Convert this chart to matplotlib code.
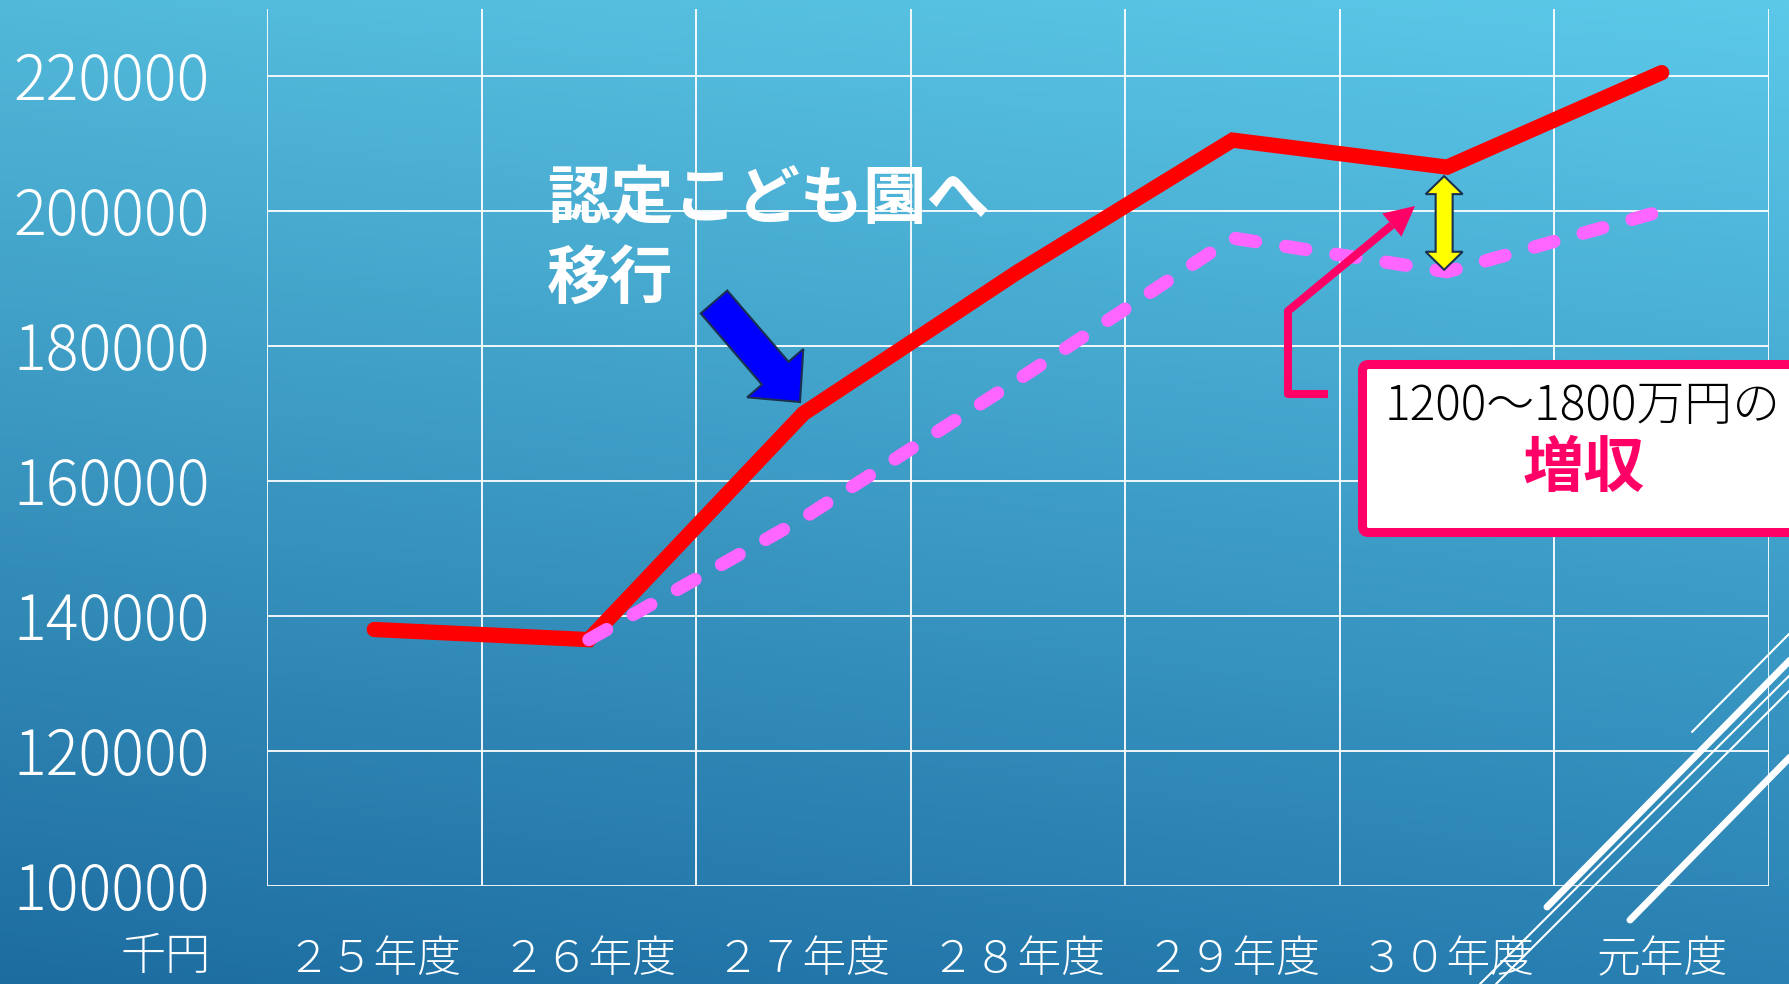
import numpy as np
import matplotlib
matplotlib.use('Agg')
import matplotlib.pyplot as plt
from matplotlib import patches, transforms
from matplotlib.lines import Line2D

plt.rcParams['font.family'] = ['Noto Sans CJK JP', 'DejaVu Sans']

# データ（千円）
years = ['２５年度', '２６年度', '２７年度', '２８年度', '２９年度', '３０年度', '元年度']
income_actual = [138000, 136500, 170000, 191000, 210500, 206500, 220500]
income_nursery = [np.nan, 136500, 154500, 175000, 196000, 191000, 200000]
y_ticks = [100000, 120000, 140000, 160000, 180000, 200000, 220000]

W, H = 1790, 984
fig = plt.figure(figsize=(W / 100, H / 100), dpi=100)
# 画像ピクセル座標（左上原点）用の変換
px = transforms.Affine2D().scale(1, -1).translate(0, H)

# 背景グラデーション
bg = fig.add_axes([0, 0, 1, 1], zorder=-10)
tl = np.array([0x52, 0xB9, 0xDA]) / 255
tr = np.array([0x5C, 0xC9, 0xE9]) / 255
bl = np.array([0x1D, 0x6C, 0xA0]) / 255
br = np.array([0x29, 0x80, 0xB2]) / 255
gy, gx = np.mgrid[0:1:300j, 0:1:300j]
gx = gx[..., None]
gy = gy[..., None]
img = tl * (1 - gx) * (1 - gy) + tr * gx * (1 - gy) + bl * (1 - gx) * gy + br * gx * gy
bg.imshow(img, aspect='auto', extent=(0, 1, 0, 1), origin='upper')
bg.axis('off')

# グラフ本体
ax = fig.add_axes([267 / W, 1 - 886 / H, (1769 - 267) / W, (886 - 8.5) / H])
ax.patch.set_alpha(0)
x = np.arange(len(years))
ax.plot(x, income_actual, color='#FF0000', lw=11, solid_joinstyle='miter',
        solid_capstyle='round', zorder=3)
ax.plot(x, income_nursery, color='#FF66FF', lw=9.5, dashes=(1.55, 2.3),
        dash_capstyle='round', zorder=4)
ax.set_xlim(-0.5, len(years) - 0.5)
ax.set_ylim(100000, 230000)
for v in y_ticks:
    ax.axhline(v, color='white', lw=1.3, zorder=1)
for b in np.arange(-0.5, len(years)):
    ax.axvline(b, color='white', lw=1.3, zorder=1)
for s in ax.spines.values():
    s.set_visible(False)
ax.set_yticks(y_ticks, [str(v) for v in y_ticks])
ax.tick_params(axis='y', length=0, pad=41, labelsize=44, labelcolor='white')
for lab in ax.get_yticklabels():
    lab.set_fontweight('light')
ax.set_xticks(x, years)
ax.tick_params(axis='x', length=0, pad=37, labelsize=31.5, labelcolor='white')
for lab in ax.get_xticklabels():
    lab.set_fontweight('light')

fig.text(211 / W, 1 - 957 / H, '千円', fontsize=32.5, color='white', fontweight='light',
         ha='right', va='center')

# 注記：認定こども園へ移行
fig.text(547 / W, 1 - 200 / H, '認定こども園へ', fontsize=45.5, fontweight='bold',
         color='white', ha='left', va='center')
fig.text(547 / W, 1 - 279 / H, '移行', fontsize=45.5, fontweight='bold',
         color='white', ha='left', va='center')
fig.add_artist(patches.FancyArrow(714, 302, 86, 100, width=35, head_width=74, head_length=38,
                                  length_includes_head=True, fc='#0000FF', ec='#1B3050',
                                  lw=1.5, transform=px, zorder=5))

# 差額の両矢印（３０年度）
def to_px(xv, yv):
    dx, dy = ax.transData.transform((xv, yv))
    return dx, H - dy

ax_x, red_y = to_px(5, income_actual[5])
_, pink_y = to_px(5, income_nursery[5])
xc = ax_x - 3
yt, yb = red_y + 9, pink_y - 2
hl, hw, sw = 18, 18.5, 8.5
yarrow = [(xc, yt), (xc + hw, yt + hl), (xc + sw, yt + hl), (xc + sw, yb - hl), (xc + hw, yb - hl),
          (xc, yb), (xc - hw, yb - hl), (xc - sw, yb - hl), (xc - sw, yt + hl), (xc - hw, yt + hl)]
fig.add_artist(patches.Polygon(yarrow, closed=True, fc='#FFFF00', ec='#1B3050', lw=1.5,
                               transform=px, zorder=5))

# 吹き出しの矢印
pink = '#FF0066'
tip = np.array([1415, 206])
corner = np.array([1288, 311])
u = (tip - corner) / np.hypot(*(tip - corner))
base = tip - 30 * u
perp = np.array([-u[1], u[0]])
fig.add_artist(Line2D([1328, 1288, 1288, base[0]], [394, 394, 311, base[1]], color=pink,
                      lw=5.8, solid_joinstyle='round', solid_capstyle='butt',
                      transform=px, zorder=5))
fig.add_artist(patches.Polygon([tip, base + 15 * perp, base - 15 * perp], closed=True,
                               fc=pink, ec='none', transform=px, zorder=5))

# 吹き出しの枠
fig.add_artist(patches.FancyBboxPatch((1362.5, 364.5), 460, 168,
                                      boxstyle='round,pad=0,rounding_size=6',
                                      fc='white', ec=pink, lw=6.5, transform=px, zorder=5))
fig.text(1583 / W, 1 - 406 / H, '1200～1800万円の', fontsize=34.5, color='black',
         fontweight='light', ha='center', va='center', zorder=6)
fig.text(1584 / W, 1 - 469 / H, '増収', fontsize=44, fontweight='bold', color=pink,
         ha='center', va='center', zorder=6)

# 右下の装飾線
deco = [((1692, 732), (1790, 633), 1.5),
        ((1547, 907), (1800, 650), 5.0),
        ((1480, 984), (1790, 675), 1.5),
        ((1496, 984), (1790, 690), 1.5),
        ((1630, 920), (1800, 747), 5.0)]
for (x0, y0), (x1, y1), w in deco:
    fig.add_artist(Line2D([x0, x1], [y0, y1], color='white', lw=w, solid_capstyle='round',
                          transform=px, zorder=7))

fig.savefig('out.png', dpi=100)
